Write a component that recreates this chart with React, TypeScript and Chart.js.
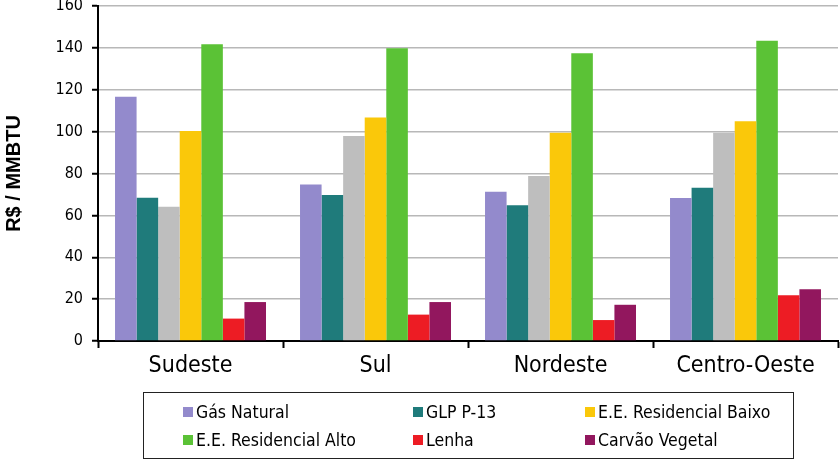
import React, { useEffect, useRef } from "react";
import { Chart, registerables } from "chart.js";

Chart.register(...registerables);

const categories = ["Sudeste", "Sul", "Nordeste", "Centro-Oeste"];
const gasNatural = [116.7, 74.8, 71.3, 68.3];
const glpP13 = [68.4, 69.7, 64.8, 73.2];
const semLegenda = [64.1, 97.9, 78.8, 99.5];
const eeBaixo = [100.3, 106.8, 99.5, 104.9];
const eeAlto = [141.7, 139.8, 137.4, 143.4];
const lenha = [10.7, 12.6, 10.0, 21.8];
const carvao = [18.6, 18.6, 17.3, 24.7];
const yTicks = [0, 20, 40, 60, 80, 100, 120, 140, 160];

const seriesNames = ["Gás Natural", "GLP P-13", "", "E.E. Residencial Baixo", "E.E. Residencial Alto", "Lenha", "Carvão Vegetal"];
const seriesColors = ["#938ACC", "#1F7B7B", "#BEBEBE", "#FAC80A", "#5BC236", "#ED1C24", "#92175E"];
const seriesData = [gasNatural, glpP13, semLegenda, eeBaixo, eeAlto, lenha, carvao];

const legendOrder = [0, 1, 3, 4, 5, 6];

export default function App() {
  const ref = useRef<HTMLCanvasElement | null>(null);
  useEffect(() => {
    document.body.style.margin = "0";
    const ctx = ref.current!.getContext("2d")!;
    const chart = new Chart(ctx, {
      type: "bar",
      data: {
        labels: categories,
        datasets: seriesData.map((d, i) => ({
          label: seriesNames[i],
          data: d,
          backgroundColor: seriesColors[i],
          borderWidth: 0,
          categoryPercentage: 0.816,
          barPercentage: 1.0,
        })),
      },
      options: {
        responsive: false,
        animation: false,
        layout: { padding: { top: 6, right: 2, left: 0, bottom: 0 } },
        plugins: { legend: { display: false }, tooltip: { enabled: false } },
        scales: {
          x: {
            offset: true,
            grid: {
              display: true,
              offset: true,
              drawOnChartArea: false,
              drawTicks: true,
              tickLength: 7,
              tickColor: "#000",
              tickWidth: 2,
            },
            border: { display: true, color: "#000", width: 2 },
            ticks: {
              color: "#000",
              font: { family: "'Liberation Sans Narrow', 'DejaVu Sans Condensed', 'Noto Sans', sans-serif", size: 23 },
              padding: 4,
            },
            afterFit: (s: any) => {
              s.height = 119;
            },
          },
          y: {
            min: 0,
            max: 160,
            afterBuildTicks: (s: any) => {
              s.ticks = yTicks.map((v) => ({ value: v }));
            },
            grid: {
              color: "#B8B8B8",
              lineWidth: 1.5,
              drawTicks: true,
              tickLength: 6,
              tickColor: "#000",
              tickWidth: 2,
            },
            border: { display: true, color: "#000", width: 2 },
            ticks: {
              color: "#000",
              font: { family: "'Liberation Sans Narrow', 'DejaVu Sans Condensed', 'Noto Sans', sans-serif", size: 16 },
              padding: 9,
            },
            title: {
              display: true,
              text: "R$ / MMBTU",
              color: "#000",
              font: { family: "'Liberation Sans', Arial, sans-serif", size: 20, weight: "bold" },
              padding: { top: 2, bottom: 0 },
            },
            afterFit: (s: any) => {
              s.width = 98;
              s.paddingTop = 0;
              s.paddingBottom = 0;
            },
          },
        },
      },
    });
    return () => chart.destroy();
  }, []);

  const legendFont = "'Liberation Sans Narrow', 'DejaVu Sans Condensed', 'Noto Sans', sans-serif";
  const colX = [183, 413, 585];
  const rowY = [412, 440];

  return (
    <div style={{ position: "relative", width: 840, height: 460 }}>
      <canvas ref={ref} width={840} height={460} style={{ display: "block" }} />
      <div
        style={{
          position: "absolute",
          left: 143,
          top: 392,
          width: 651,
          height: 67,
          border: "1.5px solid #222",
          boxSizing: "border-box",
        }}
      />
      {legendOrder.map((si, k) => {
        const col = k % 3;
        const row = Math.floor(k / 3);
        return (
          <div
            key={si}
            style={{
              position: "absolute",
              left: colX[col],
              top: rowY[row] - 12,
              height: 24,
              display: "flex",
              alignItems: "center",
              whiteSpace: "nowrap",
              fontFamily: legendFont,
              fontSize: 17.5,
              color: "#000",
            }}
          >
            <span
              style={{
                display: "inline-block",
                width: 10,
                height: 10,
                background: seriesColors[si],
                marginRight: 3,
              }}
            />
            <span>{seriesNames[si]}</span>
          </div>
        );
      })}
    </div>
  );
}
